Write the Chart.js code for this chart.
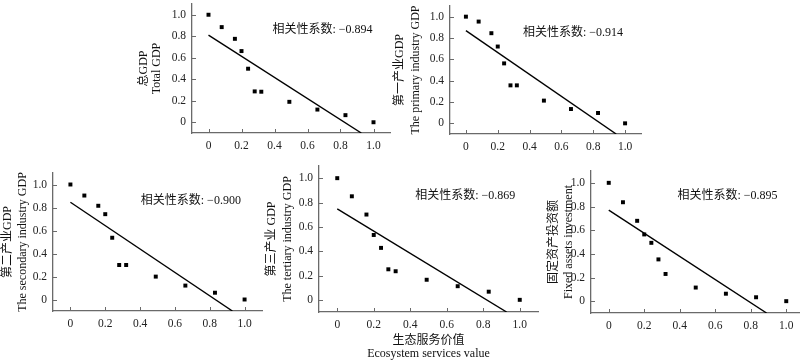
<!DOCTYPE html>
<html><head><meta charset="utf-8">
<script src="https://cdn.jsdelivr.net/npm/chart.js@4.4.1/dist/chart.umd.min.js"></script>
<style>
html,body{margin:0;padding:0;width:800px;height:360px;overflow:hidden;background:#fff;position:relative;}
canvas{position:absolute;}
</style></head><body>
<canvas id="c1"></canvas><canvas id="c2"></canvas><canvas id="c3"></canvas><canvas id="c4"></canvas><canvas id="c5"></canvas>
<script>
// ---- data ----
const esv = [0, 0.08, 0.16, 0.20, 0.24, 0.28, 0.32, 0.49, 0.66, 0.83, 1.0];
const totalGDP     = [1.0, 0.885, 0.776, 0.662, 0.498, 0.287, 0.284, 0.190, 0.118, 0.066, 0];
const primaryGDP   = [1.0, 0.954, 0.845, 0.720, 0.562, 0.356, 0.356, 0.213, 0.134, 0.097, 0];
const secondaryGDP = [1.0, 0.904, 0.815, 0.742, 0.537, 0.300, 0.300, 0.199, 0.121, 0.059, 0];
const tertiaryGDP  = [1.0, 0.851, 0.701, 0.533, 0.427, 0.251, 0.235, 0.165, 0.112, 0.067, 0];
const fixedAssets  = [1.0, 0.836, 0.679, 0.564, 0.493, 0.353, 0.230, 0.115, 0.063, 0.033, 0];
// fitted lines: value at x=0 and x where the line reaches the bottom of the axis
const fitStartY = [0.81, 0.869, 0.846, 0.747, 0.77];
const fitEndX   = [0.926, 0.944, 0.93, 0.928, 0.889];
const fitEndY   = -0.1;
const correlations = ['−0.894', '−0.914', '−0.900', '−0.869', '−0.895'];
const tickValues = [0, 0.2, 0.4, 0.6, 0.8, 1.0];
const tickLabels = ['0', '0.2', '0.4', '0.6', '0.8', '1.0'];
const yTitles = [
  ['总GDP', 'Total GDP'],
  ['第一产业GDP', 'The primary industry GDP'],
  ['第二产业GDP', 'The secondary industry GDP'],
  ['第三产业 GDP', 'The tertiary industry GDP'],
  ['固定资产投资额', 'Fixed assets investment']
];
const xTitle = ['生态服务价值', 'Ecosystem services value'];
const noteLabel = '相关性系数: ';
const series = [totalGDP, primaryGDP, secondaryGDP, tertiaryGDP, fixedAssets];

// ---- layout / style ----
const FONT = '"Liberation Serif", "Noto Sans CJK SC", serif';
const AXIS = '#6a6a6a';
const panels = [
  {id:'c1', left:137, top:0,   width:257, height:155, yW:55, xH:22, lh:13, note:[0.388,0.858]},
  {id:'c2', left:392, top:2,   width:253, height:154, yW:58, xH:22, lh:16, note:[0.358,0.851]},
  {id:'c3', left:0,   top:169, width:266, height:164, yW:53, xH:22, lh:15, note:[0.404,0.860]},
  {id:'c4', left:264, top:162, width:278, height:198, yW:55, xH:48, lh:16, note:[0.427,0.854], xTitle:true},
  {id:'c5', left:546, top:167, width:262, height:168, yW:45, xH:22, lh:15, note:[0.387,0.891]}
];

const decor = {
  id: 'decor',
  afterDatasetsDraw(chart, args, opts) {
    const {ctx, scales: {x, y}} = chart;
    ctx.save();
    ctx.strokeStyle = AXIS; ctx.lineWidth = 1;
    tickValues.forEach(v => {
      const px = Math.round(x.getPixelForValue(v)) + 0.5;
      ctx.beginPath(); ctx.moveTo(px, y.bottom); ctx.lineTo(px, y.bottom - 4); ctx.stroke();
      const py = Math.round(y.getPixelForValue(v)) + 0.5;
      ctx.beginPath(); ctx.moveTo(x.left, py); ctx.lineTo(x.left + 4, py); ctx.stroke();
    });
    ctx.fillStyle = '#111';
    ctx.font = '12px ' + FONT;
    ctx.textBaseline = 'middle'; ctx.textAlign = 'left';
    ctx.fillText(opts.text, x.getPixelForValue(opts.at[0]), y.getPixelForValue(opts.at[1]));
    ctx.restore();
  }
};

panels.forEach((p, i) => {
  const cv = document.getElementById(p.id);
  cv.width = p.width; cv.height = p.height;
  cv.style.left = p.left + 'px'; cv.style.top = p.top + 'px';
  cv.style.width = p.width + 'px'; cv.style.height = p.height + 'px';
  const pts = esv.map((v, k) => ({x: v, y: series[i][k]}));
  const fit = [{x: 0, y: fitStartY[i]}, {x: fitEndX[i], y: fitEndY}];
  new Chart(cv, {
    type: 'scatter',
    data: {datasets: [
      {data: fit, showLine: true, borderColor: '#000', borderWidth: 1.4, pointRadius: 0, fill: false},
      {data: pts, pointStyle: 'rect', pointRadius: 2.8, backgroundColor: '#000', borderWidth: 0}
    ]},
    options: {
      responsive: false, animation: false, devicePixelRatio: 1,
      layout: {padding: 0},
      plugins: {legend: {display: false}, tooltip: {enabled: false},
        decor: {text: noteLabel + correlations[i], at: p.note}},
      scales: {
        x: {
          type: 'linear', min: -0.1, max: 1.1,
          afterBuildTicks: s => { s.ticks = tickValues.map(v => ({value: v})); },
          afterFit: s => { s.height = p.xH; s.paddingLeft = 0; s.paddingRight = 0; },
          grid: {display: true, drawOnChartArea: false, drawTicks: false},
          border: {display: true, color: AXIS, width: 1.3},
          ticks: {padding: 6, color: '#222', autoSkip: false, maxRotation: 0,
            font: {family: FONT, size: 11.5}, callback: (v, k) => tickLabels[k]},
          title: p.xTitle ? {display: true, text: xTitle, color: '#111',
            font: {family: FONT, size: 12, lineHeight: '13px'}, padding: {top: 0, bottom: 0}} : {display: false}
        },
        y: {
          type: 'linear', min: -0.1, max: 1.1,
          afterBuildTicks: s => { s.ticks = tickValues.map(v => ({value: v})); },
          afterFit: s => { s.width = p.yW; s.paddingTop = 0; s.paddingBottom = 0; },
          grid: {display: true, drawOnChartArea: false, drawTicks: false},
          border: {display: true, color: AXIS, width: 1.3},
          ticks: {padding: 6, color: '#222', autoSkip: false,
            font: {family: FONT, size: 11.5}, callback: (v, k) => tickLabels[k]},
          title: {display: true, text: yTitles[i], color: '#111',
            font: {family: FONT, size: 12, lineHeight: p.lh + 'px'}, padding: {top: 0, bottom: 0}}
        }
      }
    },
    plugins: [decor]
  });
});
</script>
</body></html>
